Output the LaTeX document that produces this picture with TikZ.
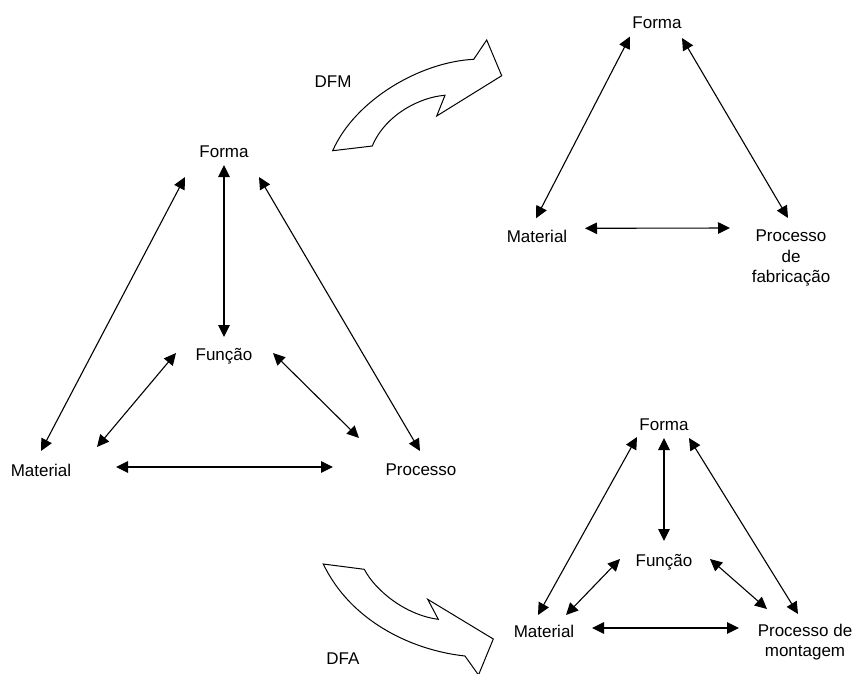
\documentclass[tikz,border=0pt]{standalone}
\usepackage{fontspec}
\setmainfont{Liberation Sans}
\usetikzlibrary{arrows.meta,calc}
\tikzset{
  concept label/.style={font=\fontsize{17}{20.3}\selectfont,inner sep=0pt,
    text height=12.2pt,text depth=0pt},
  concept block/.style={font=\fontsize{17}{20.3}\selectfont,inner sep=0pt,
    align=center,anchor=north},
  link edge/.style={{Triangle[length=12pt,width=11.5pt]}-{Triangle[length=12pt,width=11.5pt]},
    line width=1.1pt},
  flow arrow/.style={draw=black,fill=white,line width=1pt,line join=miter}
}

\begin{document}
\begin{tikzpicture}[x=1pt,y=-1pt]
    \useasboundingbox (0,0) rectangle (857,673);
    \node[concept label] (formaL) at (224,151) {Forma};
    \node[concept label] (funcaoL) at (224,354) {Função};
    \node[concept label] (materialL) at (41,470) {Material};
    \node[concept label] (processoL) at (421,469) {Processo};
    \node[concept label] (formaT) at (657,22.5) {Forma};
    \node[concept label] (materialT) at (537,236.3) {Material};
    \node[concept block] (processoT) at (791,230) {Processo\\de\\fabricação};
    \node[concept label] (formaB) at (664,424) {Forma};
    \node[concept label] (funcaoB) at (664,560) {Função};
    \node[concept label] (materialB) at (544,631) {Material};
    \node[concept block] (processoB) at (805,624) {Processo de\\montagem};
    \node[concept label] (dfm) at (333,81) {DFM};
    \node[concept label] (dfa) at (343,658) {DFA};
    \foreach \from/\fx/\fy/\to/\tx/\ty in {
      formaL/-39/26/materialL/0/-19,
      formaL/35/26/processoL/-1/-18,
      formaL/0/14/funcaoL/0/-17,
      funcaoL/-48/-1/materialL/56/-23,
      funcaoL/49/-1/processoL/-62/-31,
      materialL/75/-3/processoL/-88/-2,
      formaT/-27/14/materialT/-1/-18,
      formaT/25/15.5/processoT.north/-3/-12,
      materialT/48/-8/processoT.north/-61/-2,
      formaB/0/14/funcaoB/0/-19,
      formaB/-27/13/materialB/-6/-16,
      formaB/25/14/processoB.north/-7/-10,
      funcaoB/-44/-1/materialB/22/-16,
      funcaoB/46/-1/processoB.north/-38/-15,
      materialB/48/-3/processoB.north/-66/4}
      \draw[link edge] ($(\from)+(\fx,\fy)$) -- ($(\to)+(\tx,\ty)$);
    \draw[flow arrow] (332.7,150.7) -- (372.3,146)
      .. controls (385,115) and (420,97) .. (445,95.3)
      -- (436.7,116) -- (501.7,75.7) -- (486.7,40) -- (473.7,59.3)
      .. controls (420,62) and (355,100) .. (332.7,150.7) -- cycle;
    \draw[flow arrow] (323.3,564) -- (364.3,569.3)
      .. controls (375,590) and (405,615) .. (438.3,619.3)
      -- (427.7,599.3) -- (493.3,639) -- (478.5,675) -- (465,656)
      .. controls (410,650) and (350,620) .. (323.3,564) -- cycle;
\end{tikzpicture}
\end{document}
